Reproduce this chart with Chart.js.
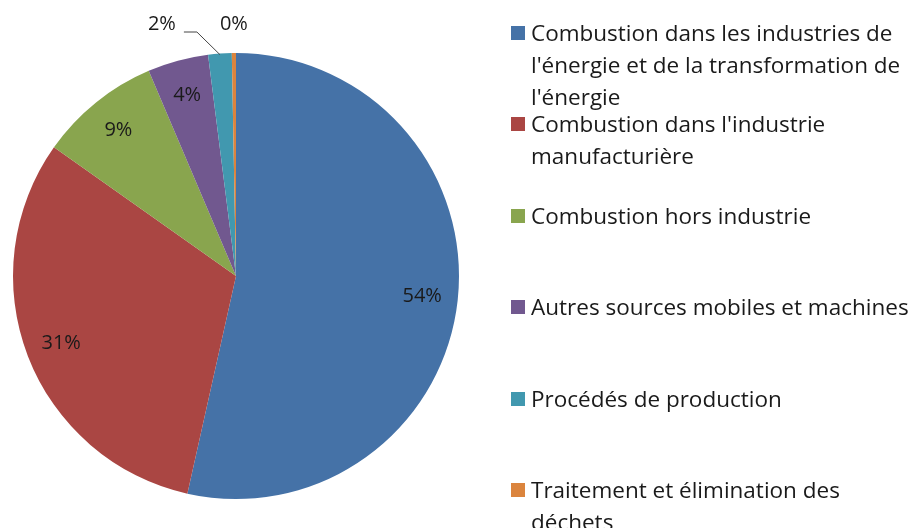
<!DOCTYPE html>
<html>
<head>
<meta charset="utf-8">
<script src="https://cdn.jsdelivr.net/npm/chart.js@4"></script>
<style>
  body { margin: 0; background: #fff; }
  #wrap { position: relative; width: 920px; height: 528px; }
  #pie { position: absolute; left: 0; top: 0; }
  #legend { position: absolute; left: 0; top: 0; width: 920px; height: 528px;
    font-family: "Open Sans", sans-serif; font-size: 22.5px; color: #1a1a1a; }
  .item { position: absolute; left: 511px; width: 409px; line-height: 32px; }
  .box { position: absolute; left: 0; top: 9px; width: 14px; height: 14px; }
  .txt { margin-left: 20px; width: 392px; }
</style>
</head>
<body>
<div id="wrap">
  <canvas id="pie" width="920" height="528"></canvas>
  <div id="legend"></div>
</div>
<script>
const categories = [
  "Combustion dans les industries de l'énergie et de la transformation de l'énergie",
  "Combustion dans l'industrie manufacturière",
  "Combustion hors industrie",
  "Autres sources mobiles et machines",
  "Procédés de production",
  "Traitement et élimination des déchets"
];
const parts = [53.5, 31.3, 8.8, 4.4, 1.7, 0.3];
const couleurs = ['#4572A7', '#AA4643', '#89A54E', '#71588F', '#4198AF', '#DB843D'];

// étiquettes de pourcentage (dedans pour les grosses parts, dehors en haut pour les petites)
const etiquettes = {
  id: 'etiquettes',
  afterDatasetsDraw(chart) {
    const ctx = chart.ctx;
    const arcs = chart.getDatasetMeta(0).data;
    const total = parts.reduce((a, b) => a + b, 0);
    ctx.save();
    ctx.font = '20px "Open Sans", sans-serif';
    ctx.fillStyle = '#1a1a1a';
    ctx.textAlign = 'center';
    ctx.textBaseline = 'middle';
    const petits = [];
    arcs.forEach((arc, i) => {
      const txt = Math.round(parts[i] / total * 100) + '%';
      const mid = (arc.startAngle + arc.endAngle) / 2;
      if (parts[i] / total < 0.03) { petits.push({ i, arc, mid, txt }); return; }
      const r = arc.outerRadius * 0.84;
      ctx.fillText(txt, arc.x + Math.cos(mid) * r, arc.y + Math.sin(mid) * r);
    });
    // les petites parts : alignées au-dessus du camembert, décalées vers la gauche
    petits.reverse().forEach((p, k) => {
      const arc = p.arc;
      const ax = arc.x + Math.cos(p.mid) * arc.outerRadius;
      const ay = arc.y + Math.sin(p.mid) * arc.outerRadius;
      const y = arc.y - arc.outerRadius - 29;
      const x = ax - k * 58;
      ctx.fillText(p.txt, x, y);
      if (k > 0) {
        ctx.strokeStyle = '#444';
        ctx.lineWidth = 1;
        ctx.beginPath();
        ctx.moveTo(x + 22, y + 8);
        ctx.lineTo(x + 35, y + 8);
        ctx.lineTo(ax, ay + 1);
        ctx.stroke();
      }
    });
    ctx.restore();
  }
};

new Chart(document.getElementById('pie'), {
  type: 'pie',
  data: {
    labels: categories,
    datasets: [{
      data: parts,
      backgroundColor: couleurs,
      borderWidth: 0
    }]
  },
  options: {
    responsive: false,
    animation: false,
    rotation: 0,
    layout: { padding: { left: 13, right: 461, top: 53, bottom: 29 } },
    plugins: {
      legend: { display: false },
      tooltip: { enabled: false }
    }
  },
  plugins: [etiquettes]
});

// légende à droite
const legende = document.getElementById('legend');
categories.forEach((nom, i) => {
  const div = document.createElement('div');
  div.className = 'item';
  div.style.top = (17 + i * 91.4) + 'px';
  div.innerHTML = '<span class="box" style="background:' + couleurs[i] + '"></span><div class="txt"></div>';
  div.querySelector('.txt').textContent = nom;
  legende.appendChild(div);
});
</script>
</body>
</html>
